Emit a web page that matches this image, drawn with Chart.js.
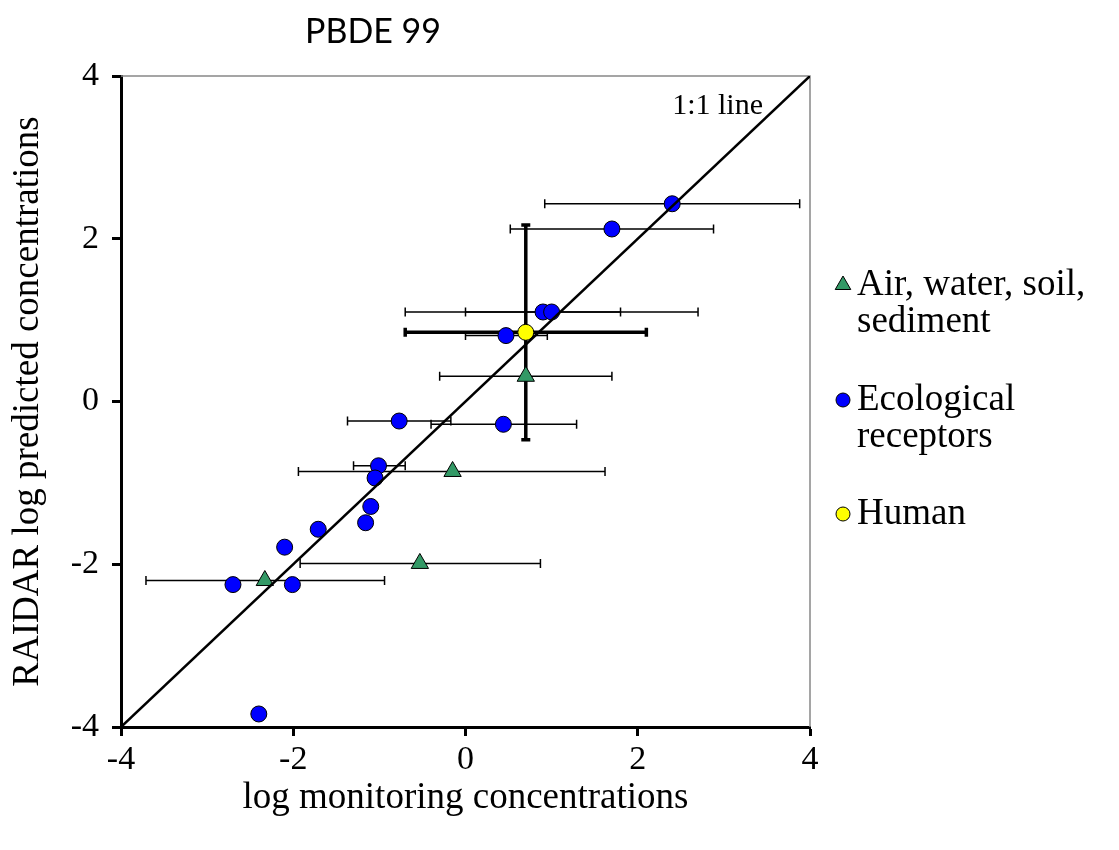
<!DOCTYPE html>
<html>
<head>
<meta charset="utf-8">
<title>PBDE 99</title>
<script src="https://cdn.jsdelivr.net/npm/chart.js@4.4.1/dist/chart.umd.min.js"></script>
<style>
  html, body { margin: 0; padding: 0; background: #fff; }
  #wrap { width: 1119px; height: 850px; }
</style>
</head>
<body>
<div id="wrap"><canvas id="chart" width="1119" height="850"></canvas></div>
<script>
const chartTitle = 'PBDE 99';
const xTitle = 'log monitoring concentrations';
const yTitle = 'RAIDAR log predicted concentrations';
const axisTicks = [-4, -2, 0, 2, 4];
const oneToOne = [-4, 4];

// air, water, soil, sediment
const airX = [0.70, -0.15, -0.53, -2.33];
const airY = [0.31, -0.86, -1.99, -2.20];
const airXLow = [-0.30, -1.94, -1.92, -3.71];
const airXHigh = [1.70, 1.62, 0.87, -0.94];

// ecological receptors
const ecoX = [2.40, 1.70, 0.90, 1.00, 0.47, 0.44, -0.77, -1.01, -1.05, -1.10, -1.16, -1.71, -2.10, -2.70, -2.01, -2.40];
const ecoY = [2.43, 2.12, 1.10, 1.10, 0.81, -0.28, -0.24, -0.79, -0.94, -1.29, -1.49, -1.57, -1.79, -2.25, -2.25, -3.84];
const ecoXLow = [0.92, 0.52, -0.70, 0.00, 0.00, -0.40, -1.37, -1.30, null, null, null, null, null, null, null, null];
const ecoXHigh = [3.88, 2.88, 1.80, 2.70, 0.95, 1.29, -0.17, -0.70, null, null, null, null, null, null, null, null];

// human
const humanX = [0.70];
const humanY = [0.85];
const humanXLow = [-0.70];
const humanXHigh = [2.10];
const humanYLow = [-0.47];
const humanYHigh = [2.17];

const serif = '"Liberation Serif", "Times New Roman", serif';
Chart.defaults.font.family = serif;
Chart.defaults.color = '#000';

const toPoints = (xs, ys) => xs.map((x, i) => ({ x: x, y: ys[i] }));

// horizontal / vertical error bars, drawn under the markers
const errorBars = {
  id: 'errorBars',
  beforeDatasetsDraw(chart) {
    const { ctx, scales: { x, y } } = chart;
    ctx.save();
    ctx.strokeStyle = '#000';
    chart.data.datasets.forEach(ds => {
      const e = ds.errors;
      if (!e) return;
      ctx.lineWidth = e.width;
      ds.data.forEach((p, i) => {
        const px = x.getPixelForValue(p.x);
        const py = y.getPixelForValue(p.y);
        if (e.xLow && e.xLow[i] != null) {
          const a = x.getPixelForValue(e.xLow[i]);
          const b = x.getPixelForValue(e.xHigh[i]);
          ctx.beginPath();
          ctx.moveTo(a, py); ctx.lineTo(b, py);
          ctx.moveTo(a, py - e.cap); ctx.lineTo(a, py + e.cap);
          ctx.moveTo(b, py - e.cap); ctx.lineTo(b, py + e.cap);
          ctx.stroke();
        }
        if (e.yLow && e.yLow[i] != null) {
          const a = y.getPixelForValue(e.yLow[i]);
          const b = y.getPixelForValue(e.yHigh[i]);
          ctx.beginPath();
          ctx.moveTo(px, a); ctx.lineTo(px, b);
          ctx.moveTo(px - e.cap, a); ctx.lineTo(px + e.cap, a);
          ctx.moveTo(px - e.cap, b); ctx.lineTo(px + e.cap, b);
          ctx.stroke();
        }
      });
    });
    ctx.restore();
  }
};

function marker(ctx, style, cx, cy, r, fill) {
  ctx.beginPath();
  if (style === 'triangle') {
    ctx.moveTo(cx, cy - r);
    ctx.lineTo(cx + r * Math.sin(2 * Math.PI / 3), cy + r / 2);
    ctx.lineTo(cx - r * Math.sin(2 * Math.PI / 3), cy + r / 2);
    ctx.closePath();
  } else {
    ctx.arc(cx, cy, r, 0, Math.PI * 2);
  }
  ctx.fillStyle = fill;
  ctx.fill();
  ctx.lineWidth = 1;
  ctx.strokeStyle = '#000';
  ctx.stroke();
}

// plot frame, titles, 1:1 label and the side legend
const decorations = {
  id: 'decorations',
  beforeDatasetsDraw(chart) {
    const { ctx, chartArea: a } = chart;
    ctx.save();
    ctx.strokeStyle = '#888';
    ctx.lineWidth = 1.5;
    ctx.beginPath();
    ctx.moveTo(a.left, a.top);
    ctx.lineTo(a.right, a.top);
    ctx.lineTo(a.right, a.bottom);
    ctx.stroke();
    ctx.restore();
  },
  afterDraw(chart) {
    const { ctx, chartArea: a } = chart;
    ctx.save();
    ctx.fillStyle = '#000';
    ctx.textBaseline = 'alphabetic';

    ctx.font = '34px Lato, "Open Sans", sans-serif';
    ctx.textAlign = 'center';
    ctx.fillText(chartTitle, 373, 43);

    ctx.font = '30px ' + serif;
    ctx.textAlign = 'right';
    ctx.fillText('1:1 line', a.right - 47, a.top + 38);

    const rows = [
      { ds: 1, y: 285, text: ['Air, water, soil,', 'sediment'] },
      { ds: 2, y: 400, text: ['Ecological', 'receptors'] },
      { ds: 3, y: 514, text: ['Human'] }
    ];
    ctx.textAlign = 'left';
    ctx.textBaseline = 'middle';
    rows.forEach(row => {
      const ds = chart.data.datasets[row.ds];
      marker(ctx, ds.pointStyle, a.right + 33, row.y, ds.pointStyle === 'triangle' ? 9 : 7, ds.backgroundColor);
      ctx.fillStyle = '#000';
      ctx.font = '37px ' + serif;
      row.text.forEach((t, k) => ctx.fillText(t, a.right + 47, row.y + k * 37));
    });
    ctx.restore();
  }
};

const axisOptions = (title, isX) => ({
  type: 'linear',
  min: -4,
  max: 4,
  afterBuildTicks: s => { s.ticks = axisTicks.map(v => ({ value: v })); },
  afterFit: s => { if (isX) s.height = 123; else s.width = 121; },
  border: { display: true, color: '#000', width: 3 },
  grid: { drawOnChartArea: false, drawTicks: true, tickLength: 9, tickColor: '#000', tickWidth: 3 },
  ticks: {
    font: { size: 34 },
    color: '#000',
    padding: isX ? 4 : 13,
    callback: v => String(v)
  },
  title: {
    display: true,
    text: title,
    color: '#000',
    font: { size: 37 },
    padding: isX ? { top: 0, bottom: 30 } : { top: 6, bottom: 0 }
  }
});

new Chart(document.getElementById('chart'), {
  type: 'scatter',
  data: {
    datasets: [
      {
        label: '1:1 line',
        data: toPoints(oneToOne, oneToOne),
        showLine: true,
        borderColor: '#000',
        borderWidth: 2.5,
        pointRadius: 0,
        order: 0
      },
      {
        label: 'Air, water, soil, sediment',
        data: toPoints(airX, airY),
        pointStyle: 'triangle',
        pointRadius: 10,
        backgroundColor: '#339966',
        borderColor: '#000',
        borderWidth: 1,
        errors: { xLow: airXLow, xHigh: airXHigh, width: 1.5, cap: 4.5 },
        order: 1
      },
      {
        label: 'Ecological receptors',
        data: toPoints(ecoX, ecoY),
        pointStyle: 'circle',
        pointRadius: 8,
        backgroundColor: '#0000FF',
        borderColor: '#000',
        borderWidth: 1,
        errors: { xLow: ecoXLow, xHigh: ecoXHigh, width: 1.5, cap: 4.5 },
        order: 1
      },
      {
        label: 'Human',
        data: toPoints(humanX, humanY),
        pointStyle: 'circle',
        pointRadius: 8,
        backgroundColor: '#FFFF00',
        borderColor: '#000',
        borderWidth: 1,
        errors: { xLow: humanXLow, xHigh: humanXHigh, yLow: humanYLow, yHigh: humanYHigh, width: 3.5, cap: 4.5 },
        order: 1
      }
    ]
  },
  options: {
    responsive: false,
    animation: false,
    events: [],
    layout: { padding: { left: 0, right: 309, top: 76, bottom: 0 } },
    plugins: {
      legend: { display: false },
      tooltip: { enabled: false }
    },
    scales: {
      x: axisOptions(xTitle, true),
      y: axisOptions(yTitle, false)
    }
  },
  plugins: [errorBars, decorations]
});
</script>
</body>
</html>
